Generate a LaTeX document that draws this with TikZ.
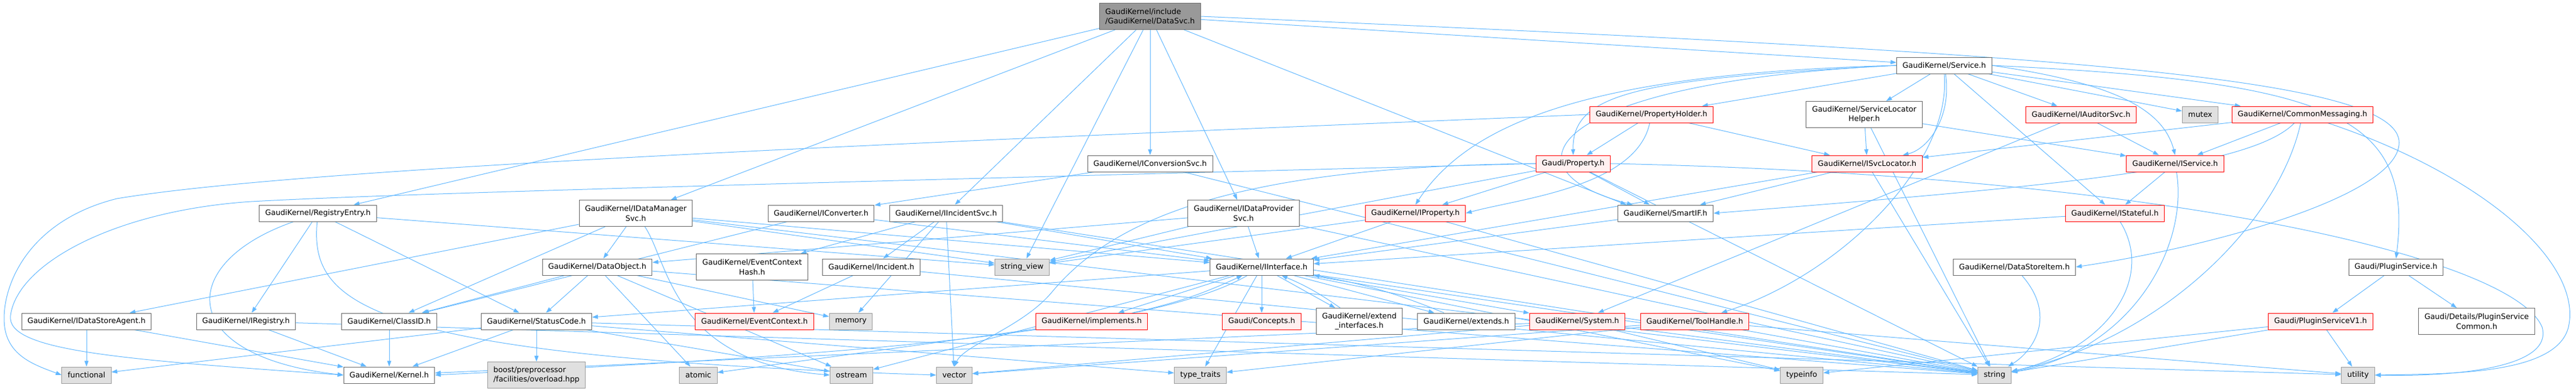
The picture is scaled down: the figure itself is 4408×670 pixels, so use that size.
\documentclass[tikz,border=0pt]{standalone}
\usepackage{fontspec}
\setmainfont{DejaVu Sans}
\usetikzlibrary{arrows.meta}
\pgfdeclarelayer{edges}
\pgfsetlayers{edges,main}
\definecolor{edgeblue}{HTML}{63B8FF}
\definecolor{boxgrey}{HTML}{666666}
\definecolor{sysline}{HTML}{999999}
\definecolor{sysfill}{HTML}{E0E0E0}
\definecolor{truncfill}{HTML}{FFF0F0}
\definecolor{rootfill}{HTML}{999999}

\begin{document}
\begin{tikzpicture}[x=1pt, y=-1pt,
		file/.style={draw=boxgrey, fill=white, line width=1pt, inner xsep=10pt, inner ysep=3pt,
			minimum height=28pt, align=center, font=\fontsize{12.9}{16.5}\selectfont},
		two/.style={minimum height=45pt},
		sys/.style={file, draw=sysline, fill=sysfill},
		trunc/.style={file, draw=red, fill=truncfill},
		top/.style={file, two, draw=boxgrey, fill=rootfill, align=left},
		dep/.style={draw=edgeblue, line width=1pt, -{Triangle[length=10pt, width=7pt]}}
		]
		\useasboundingbox (0,0) rectangle (4408,670);
		
		% root
		\node [top] (dsvc) at (1968,28) {GaudiKernel/include\\/GaudiKernel/DataSvc.h};
		\node [file] (service) at (3327,112) {GaudiKernel/Service.h};
		
		\node [trunc] (propholder) at (2826,196) {GaudiKernel/PropertyHolder.h};
		\node [file, two] (slhelper) at (3190,196) {GaudiKernel/ServiceLocator\\Helper.h};
		\node [trunc] (auditor) at (3561,196) {GaudiKernel/IAuditorSvc.h};
		\node [sys] (mutex) at (3765,196) {mutex};
		\node [trunc] (commsg) at (3940,196) {GaudiKernel/CommonMessaging.h};
		
		\node [file] (iconvsvc) at (1968,280) {GaudiKernel/IConversionSvc.h};
		\node [trunc] (property) at (2692,280) {Gaudi/Property.h};
		\node [trunc] (isvcloc) at (3195,280) {GaudiKernel/ISvcLocator.h};
		\node [trunc] (iservice) at (3722,280) {GaudiKernel/IService.h};
		
		\node [file] (regentry) at (544,365) {GaudiKernel/RegistryEntry.h};
		\node [file, two] (idmsvc) at (1088,365) {GaudiKernel/IDataManager\\Svc.h};
		\node [file] (iconverter) at (1405,365) {GaudiKernel/IConverter.h};
		\node [file] (iincsvc) at (1619,365) {GaudiKernel/IIncidentSvc.h};
		\node [file, two] (idpsvc) at (2128,365) {GaudiKernel/IDataProvider\\Svc.h};
		\node [trunc] (iproperty) at (2422,365) {GaudiKernel/IProperty.h};
		\node [file] (smartif) at (2850,365) {GaudiKernel/SmartIF.h};
		\node [trunc] (istateful) at (3619,365) {GaudiKernel/IStateful.h};
		
		\node [file] (dataobj) at (1022,457) {GaudiKernel/DataObject.h};
		\node [file, two] (evctxhash) at (1287,457) {GaudiKernel/EventContext\\Hash.h};
		\node [file] (incident) at (1491,457) {GaudiKernel/Incident.h};
		\node [sys] (strview) at (1749,457) {string\_view};
		\node [file] (iinterface) at (2159,457) {GaudiKernel/IInterface.h};
		\node [file] (dsitem) at (3447,457) {GaudiKernel/DataStoreItem.h};
		\node [file] (pluginsvc) at (4100,457) {Gaudi/PluginService.h};
		
		\node [file] (idsagent) at (148,550) {GaudiKernel/IDataStoreAgent.h};
		\node [file] (iregistry) at (421,550) {GaudiKernel/IRegistry.h};
		\node [file] (classid) at (666,550) {GaudiKernel/ClassID.h};
		\node [file] (statuscode) at (918,550) {GaudiKernel/StatusCode.h};
		\node [trunc] (evctx) at (1291,550) {GaudiKernel/EventContext.h};
		\node [sys] (memory) at (1456,550) {memory};
		\node [trunc] (implements) at (1868,550) {GaudiKernel/implements.h};
		\node [trunc] (concepts) at (2159,550) {Gaudi/Concepts.h};
		\node [file, two] (extendif) at (2326,550) {GaudiKernel/extend\\\_interfaces.h};
		\node [file] (extends) at (2509,550) {GaudiKernel/extends.h};
		\node [trunc] (system) at (2699,550) {GaudiKernel/System.h};
		\node [trunc] (toolhandle) at (2900,550) {GaudiKernel/ToolHandle.h};
		\node [trunc] (psv1) at (3971,550) {Gaudi/PluginServiceV1.h};
		\node [file, two] (psvcommon) at (4238,550) {Gaudi/Details/PluginService\\Common.h};
		
		% system headers
		\node [sys] (functional) at (148,642) {functional};
		\node [file] (kernel) at (666,642) {GaudiKernel/Kernel.h};
		\node [sys, two, align=left] (boost) at (918,642) {boost/preprocessor\\/facilities/overload.hpp};
		\node [sys] (atomic) at (1195,642) {atomic};
		\node [sys] (ostream) at (1457,642) {ostream};
		\node [sys] (vector) at (1633,642) {vector};
		\node [sys] (typetraits) at (2054,642) {type\_traits};
		\node [sys] (typeinfo) at (3083,642) {typeinfo};
		\node [sys] (string) at (3413,642) {string};
		\node [sys] (utility) at (4035,642) {utility};
		
		\begin{pgfonlayer}{edges}
		\foreach \b in {regentry,idmsvc,iincsvc,strview,iconvsvc,idpsvc,service}
		\draw [dep] (dsvc) -- (\b);
		\draw [dep] (dsvc) -- ([xshift=15pt]smartif.north west);
		\foreach \b in {slhelper,auditor,istateful,mutex,commsg,propholder}
		\draw [dep] (service) -- (\b);
		\foreach \b in {property,isvcloc}
		\draw [dep] (propholder) -- (\b);
		\foreach \b in {isvcloc,iservice,string}
		\draw [dep] (slhelper) -- (\b);
		\foreach \b in {iservice,system}
		\draw [dep] (auditor) -- (\b);
		\foreach \b in {isvcloc,iservice}
		\draw [dep] (commsg) -- (\b);
		\foreach \b in {iconverter,string}
		\draw [dep] (iconvsvc) -- (\b);
		\foreach \b in {iproperty,smartif,strview,string}
		\draw [dep] (property) -- (\b);
		\foreach \b in {smartif,iinterface,string}
		\draw [dep] (isvcloc) -- (\b);
		\draw [dep] (iservice) -- (istateful);
		\foreach \b in {iregistry,statuscode,strview}
		\draw [dep] (regentry) -- (\b);
		\foreach \b in {idsagent,classid,dataobj,iinterface,strview,string}
		\draw [dep] (idmsvc) -- (\b);
		\foreach \b in {classid,iinterface}
		\draw [dep] (iconverter) -- (\b);
		\foreach \b in {incident,evctxhash,memory,vector,iinterface,string}
		\draw [dep] (iincsvc) -- (\b);
		\foreach \b in {dataobj,iinterface,strview,string}
		\draw [dep] (idpsvc) -- (\b);
		\foreach \b in {iinterface,strview,string}
		\draw [dep] (iproperty) -- (\b);
		\draw [dep] (smartif) -- (iinterface);
		\draw [dep] (istateful) -- (iinterface);
		\foreach \b in {classid,statuscode,atomic,ostream,memory,string}
		\draw [dep] (dataobj) -- (\b);
		\draw [dep] (evctxhash) -- (evctx);
		\foreach \b in {evctx,string}
		\draw [dep] (incident) -- (\b);
		\foreach \b in {concepts,implements,extendif,extends,system,statuscode,ostream,typetraits,typeinfo,string}
		\draw [dep] (iinterface) -- (\b);
		\foreach \a in {implements,extendif,extends}
		\draw [dep] (\a) to [bend right=6] (iinterface);
		\draw [dep] (implements) -- (atomic);
		\foreach \b in {psv1,psvcommon}
		\draw [dep] (pluginsvc) -- (\b);
		\foreach \b in {functional,kernel}
		\draw [dep] (idsagent) -- (\b);
		\foreach \b in {kernel,string}
		\draw [dep] (iregistry) -- (\b);
		\draw [dep] (classid) -- (kernel);
		\foreach \b in {boost,kernel,functional,ostream,typetraits,utility}
		\draw [dep] (statuscode) -- (\b);
		\foreach \b in {kernel,string,typeinfo,vector}
		\draw [dep] (system) -- (\b);
		\foreach \b in {string,vector,typetraits,utility}
		\draw [dep] (toolhandle) -- (\b);
		\foreach \b in {string,typeinfo,utility}
		\draw [dep] (psv1) -- (\b);
		
		% curved ones around the other boxes
		\draw [dep] (service) .. controls (3340,200) and (3300,255) .. (isvcloc);
		\draw [dep] (service.east) .. controls (3600,140) and (3700,180) .. (iservice.north);
		\draw [dep] (service.west) .. controls (2800,135) and (2690,160) .. (property.north);
		\draw [dep] (service.west) .. controls (2750,125) and (2520,200) .. (iproperty.north);
		\draw [dep] (service.west) .. controls (2650,140) and (2560,290) .. (smartif);
		\draw [dep] (service.south) .. controls (3340,280) and (3150,470) .. (toolhandle);
		\draw [dep] (propholder) .. controls (2800,320) and (2600,340) .. (iproperty.east);
		\draw [dep] (commsg) .. controls (3850,290) and (3500,320) .. (smartif.east);
		\draw [dep] (property.west) .. controls (2100,285) and (1900,380) .. (1800,500)
		.. controls (1750,560) and (1650,590) .. (vector.north);
		
		% long detours
		\draw [dep] (dsvc.east) .. controls (3500,90) and (4090,130) .. (4105,240)
		.. controls (4115,330) and (3800,420) .. (dsitem.east);
		\draw [dep] (service.east) .. controls (4000,140) and (4130,200) .. (pluginsvc.north);
		\draw [dep] (commsg) .. controls (4250,300) and (4420,450) .. (4395,560)
		.. controls (4375,640) and (4200,640) .. (utility.east);
		\draw [dep] (property.east) .. controls (3700,300) and (4300,440) .. (4350,560)
		.. controls (4370,630) and (4200,645) .. (utility.east);
		\draw [dep] (commsg) .. controls (3900,380) and (3700,580) .. (string);
		\draw [dep] (iservice) .. controls (3745,420) and (3650,600) .. (string);
		\draw [dep] (istateful) .. controls (3690,480) and (3600,600) .. (string);
		\draw [dep] (dsitem) .. controls (3520,540) and (3480,600) .. (string);
		\draw [dep] (propholder.west) .. controls (1400,250) and (500,290) .. (200,340)
		.. controls (40,380) and (0,500) .. (8,560) .. controls (15,610) and (60,625) .. (functional.west);
		\draw [dep] (property.west) .. controls (1500,310) and (700,330) .. (430,345)
		.. controls (200,360) and (30,450) .. (18,540) .. controls (10,600) and (200,615) .. (kernel.west);
		\draw [dep] (regentry) .. controls (300,450) and (300,610) .. (kernel.west);
		\draw [dep] (regentry) .. controls (530,520) and (620,610) .. (vector.west);
		\draw [dep] (idmsvc) .. controls (1145,450) and (1150,620) .. (ostream.west);
		\draw [dep] (iinterface) .. controls (1950,580) and (1300,615) .. (kernel.east);
		\end{pgfonlayer}
		
\end{tikzpicture}
\end{document}
